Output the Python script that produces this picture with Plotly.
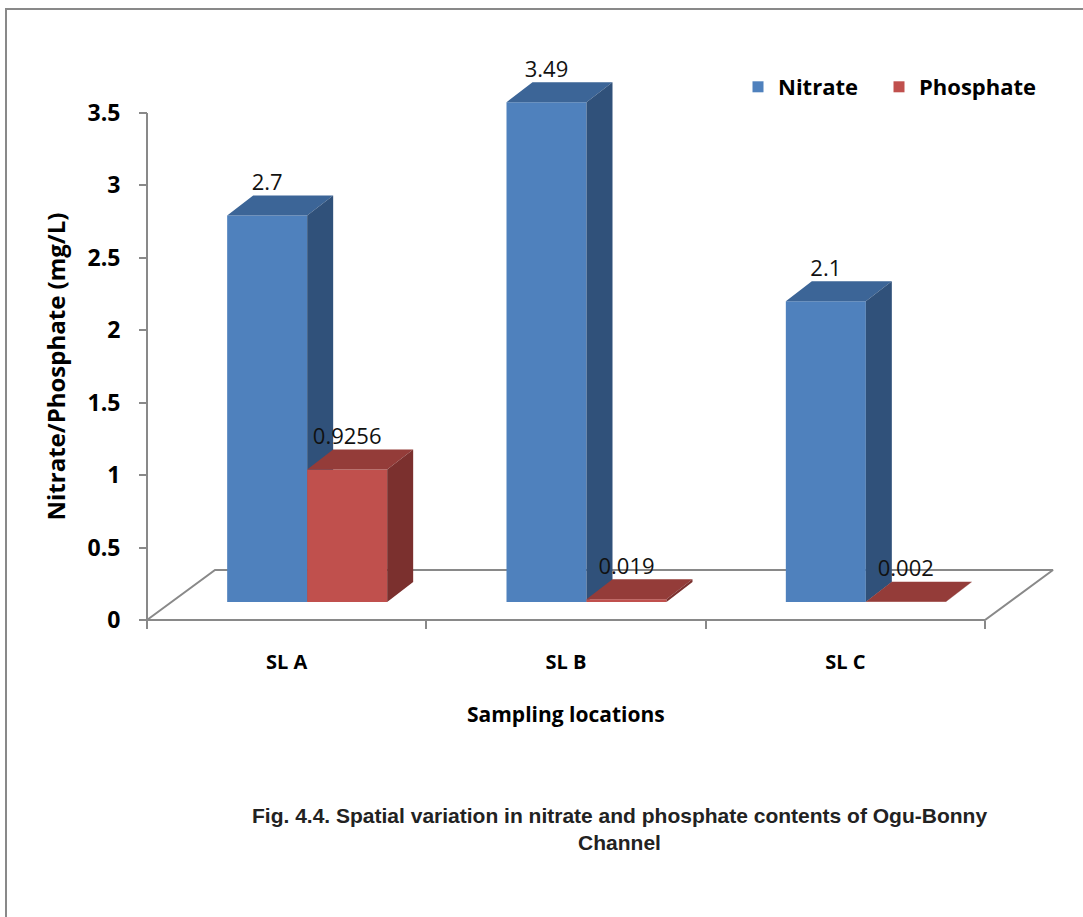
import plotly.graph_objects as go

# ---------------- data ----------------
categories = ["SL A", "SL B", "SL C"]
nitrate = [2.7, 3.49, 2.1]
phosphate = [0.9256, 0.019, 0.002]
series_names = ["Nitrate", "Phosphate"]
y_tick_vals = [0, 0.5, 1, 1.5, 2, 2.5, 3, 3.5]
y_tick_text = ["0", "0.5", "1", "1.5", "2", "2.5", "3", "3.5"]

# ---------------- style / projection constants ----------------
PX_X = 279.33            # px per category unit
PX_Y = 144.86            # px per value unit
FLOOR_DX, FLOOR_DY = 68 / PX_X, 50 / PX_Y
BAR_LEFT = -0.213        # left edge of first bar relative to category centre
BAR_W = 0.2864
BAR_BASE = 18 / PX_Y
BAR_DX, BAR_DY = 26 / PX_X, 20 / PX_Y
HSCALE = 0.9885

colors = {
    "Nitrate": ("#4F81BD", "#3C6597", "#30517A"),
    "Phosphate": ("#C0504D", "#943C39", "#7B302E"),
}
GRAY = "#898989"
FONT = "Open Sans"
NARROW = "Liberation Sans Narrow, Liberation Sans, Arial"

L, R, T, B = 139, 23, 60, 289
W, H = 1083, 917
pw, ph = W - L - R, H - T - B
x_range = [-0.5 - (147 - L) / PX_X, -0.5 + (W - R - 147) / PX_X]
y_range = [-(H - B - 620) / PX_Y, (620 - T) / PX_Y]

fig = go.Figure()

# floor (3D base plane) and value axis line
n = len(categories)
fx = [-0.5, n - 0.5, n - 0.5 + FLOOR_DX, -0.5 + FLOOR_DX, -0.5]
fy = [0, 0, FLOOR_DY, FLOOR_DY, 0]
fig.add_trace(go.Scatter(x=fx, y=fy, mode="lines", line=dict(color=GRAY, width=2),
                         hoverinfo="skip", showlegend=False))
fig.add_trace(go.Scatter(x=[-0.5, -0.5], y=[0, y_tick_vals[-1]], mode="lines",
                         line=dict(color=GRAY, width=2), hoverinfo="skip", showlegend=False))

# 3D bars as projected faces
label_x, label_y, label_t = [], [], []
for si, (name, vals) in enumerate(zip(series_names, [nitrate, phosphate])):
    front_x, front_y, top_x, top_y, side_x, side_y = [], [], [], [], [], []
    for ci, v in enumerate(vals):
        x0 = ci + BAR_LEFT + si * BAR_W
        x1 = x0 + BAR_W
        y0 = BAR_BASE
        y1 = BAR_BASE + v * HSCALE
        front_x += [x0, x1, x1, x0, x0, None]
        front_y += [y0, y0, y1, y1, y0, None]
        top_x += [x0, x1, x1 + BAR_DX, x0 + BAR_DX, x0, None]
        top_y += [y1, y1, y1 + BAR_DY, y1 + BAR_DY, y1, None]
        side_x += [x1, x1 + BAR_DX, x1 + BAR_DX, x1, x1, None]
        side_y += [y0, y0 + BAR_DY, y1 + BAR_DY, y1, y0, None]
        label_x.append((x0 + x1) / 2)
        label_y.append(y1 + BAR_DY)
        label_t.append(str(v))
    c_front, c_top, c_side = colors[name]
    for xs, ys, c in [(front_x, front_y, c_front), (top_x, top_y, c_top), (side_x, side_y, c_side)]:
        fig.add_trace(go.Scatter(x=xs, y=ys, mode="none", fill="toself", fillcolor=c,
                                 hoverinfo="skip", showlegend=False))

# legend entries (one legend box per series so each can be placed as in the original)
legend_ids = ["legend", "legend2"]
for name, lid in zip(series_names, legend_ids):
    fig.add_trace(go.Scatter(x=[None], y=[None], mode="markers", name=name, legend=lid,
                             marker=dict(symbol="square", size=11, color=colors[name][0])))

# data labels
fig.add_trace(go.Scatter(x=label_x, y=label_y, mode="text", text=label_t,
                         textposition="top center", cliponaxis=False,
                         textfont=dict(family=FONT, size=22, color="#111111"),
                         hoverinfo="skip", showlegend=False))

legend_font = dict(family=FONT, size=22, color="black", weight="bold")
legend_common = dict(orientation="h", xanchor="left", yanchor="middle",
                     y=(H - B - 87) / ph, bgcolor="rgba(0,0,0,0)", font=legend_font)

fig.update_layout(
    width=W, height=H,
    margin=dict(l=L, r=R, t=T, b=B),
    paper_bgcolor="white", plot_bgcolor="white",
    showlegend=True,
    legend=dict(x=(738 - L) / pw, **legend_common),
    legend2=dict(x=(879 - L) / pw, **legend_common),
    xaxis=dict(range=x_range, anchor="free", position=(H - B - 620) / ph,
               tickvals=list(range(n)), ticktext=categories, ticks="",
               showline=False, showgrid=False, zeroline=False,
               ticklabelstandoff=28,
               tickfont=dict(family=FONT, size=20, color="black", weight="bold"),
               minor=dict(tickvals=[i - 0.5 for i in range(n + 1)], ticks="outside",
                          ticklen=8, tickwidth=2, tickcolor=GRAY, showgrid=False)),
    yaxis=dict(range=y_range, anchor="free", position=(147 - L) / pw,
               tickvals=y_tick_vals, ticktext=y_tick_text, ticks="outside",
               ticklen=8, tickwidth=2, tickcolor=GRAY,
               showline=False, showgrid=False, zeroline=False,
               ticklabelstandoff=14,
               tickfont=dict(family=FONT, size=23, color="black", weight="bold")),
    shapes=[dict(type="rect", xref="paper", yref="paper",
                 x0=(6 - L) / pw, x1=(1200 - L) / pw,
                 y0=(H - B - 1000) / ph, y1=(H - B - 9) / ph,
                 line=dict(color=GRAY, width=2), fillcolor="rgba(0,0,0,0)")],
    annotations=[
        dict(text="Nitrate/Phosphate (mg/L)", textangle=-90, xref="paper", yref="y",
             x=(55 - L) / pw, y=y_tick_vals[-1] / 2, showarrow=False,
             xanchor="center", yanchor="middle",
             font=dict(family=FONT, size=24, color="black", weight="bold")),
        dict(text="Sampling locations", xref="x", yref="paper",
             x=1, y=(H - B - 714) / ph, showarrow=False,
             xanchor="center", yanchor="middle",
             font=dict(family=FONT, size=21, color="black", weight="bold")),
        dict(text="<b>Fig. 4.4. Spatial variation in nitrate and phosphate contents of Ogu-Bonny<br>Channel</b>",
             xref="paper", yref="paper", x=(619 - L) / pw, y=(H - B - 829) / ph,
             showarrow=False, xanchor="center", yanchor="middle", align="center",
             font=dict(family=NARROW, size=21, color="#222222")),
    ],
)

fig.write_html("out.html")
